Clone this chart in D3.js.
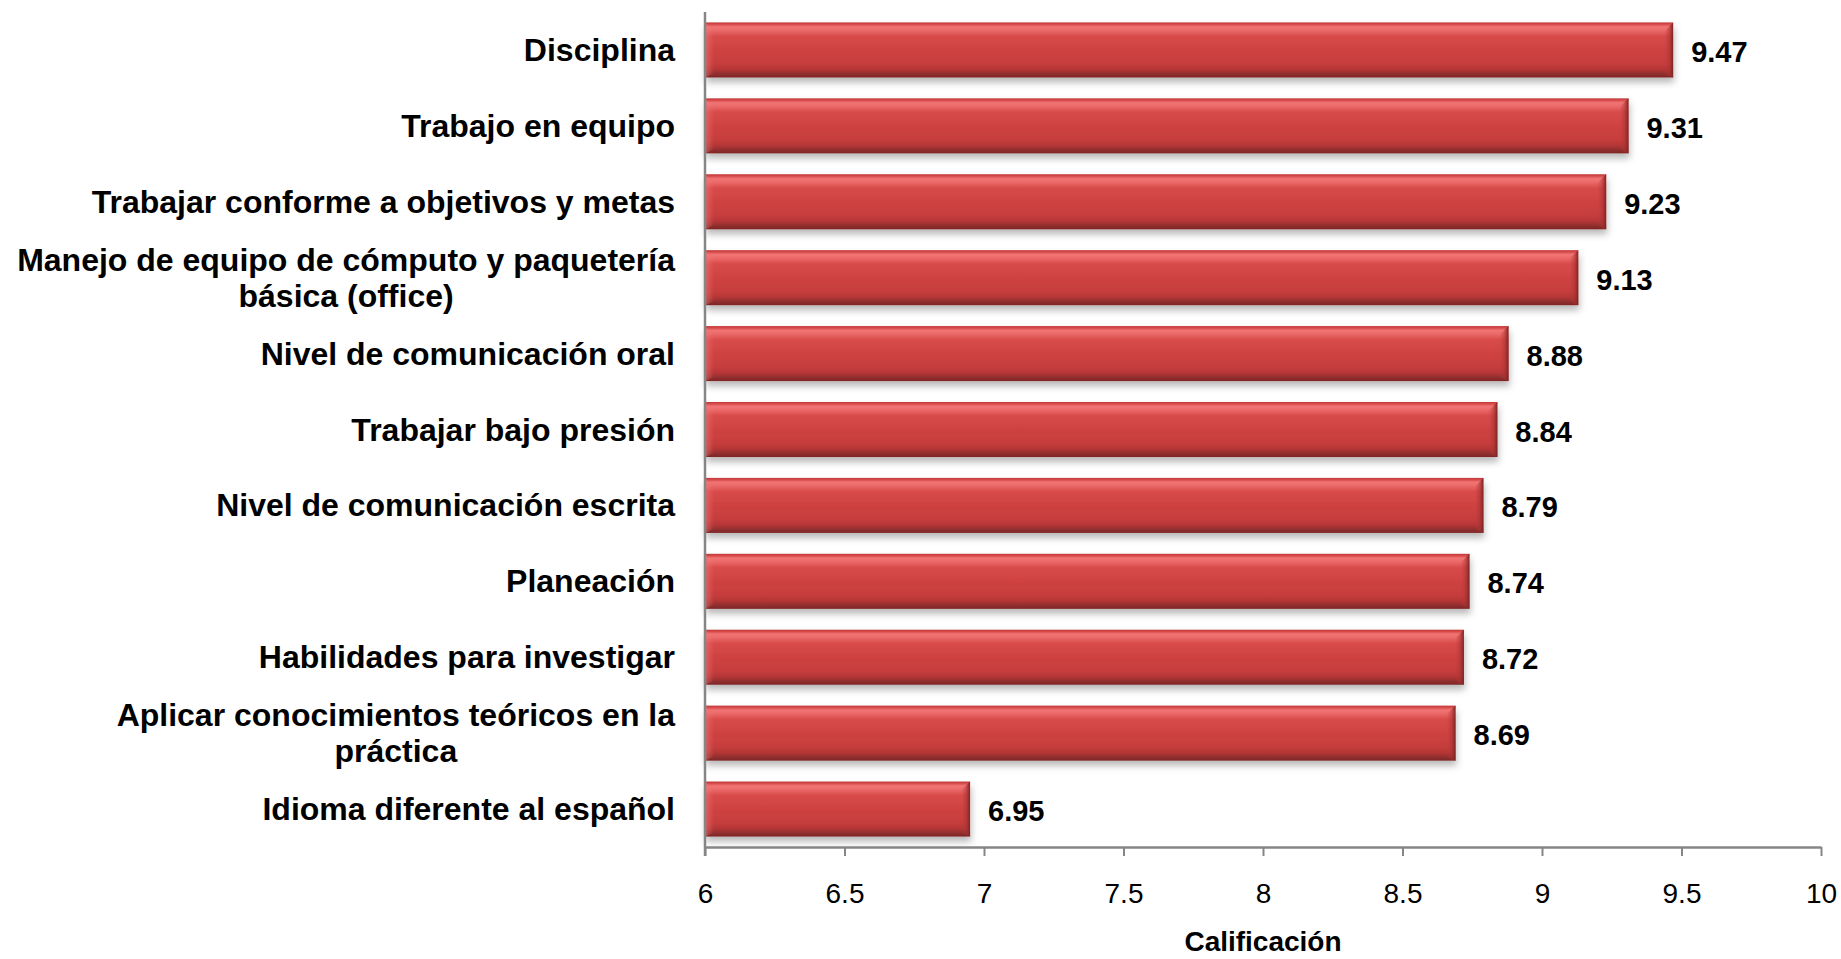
<!DOCTYPE html>
<html>
<head>
<meta charset="utf-8">
<script src="https://cdn.jsdelivr.net/npm/d3@7"></script>
<style>
  html, body { margin: 0; padding: 0; background: #fff; }
  svg { display: block; font-family: "Liberation Sans", Arial, Helvetica, sans-serif; }
</style>
</head>
<body>
<svg id="chart" width="1841" height="959"></svg>
<script>
// ---- data ----
const categories = [
  "Disciplina",
  "Trabajo en equipo",
  "Trabajar conforme a objetivos y metas",
  "Manejo de equipo de cómputo y paquetería básica (office)",
  "Nivel de comunicación oral",
  "Trabajar bajo presión",
  "Nivel de comunicación escrita",
  "Planeación",
  "Habilidades para investigar",
  "Aplicar conocimientos teóricos en la práctica",
  "Idioma diferente al español"
];
const values = [9.47, 9.31, 9.23, 9.13, 8.88, 8.84, 8.79, 8.74, 8.72, 8.69, 6.95];
const tickValues = [6, 6.5, 7, 7.5, 8, 8.5, 9, 9.5, 10];
const xDomain = [6, 10];
const xTitle = "Calificación";

(function () {
// ---- layout ----
const svg = d3.select("#chart");
const pLeft = 705, pRight = 1821, pTop = 12, pBottom = 847;

const x = d3.scaleLinear().domain(xDomain).range([pLeft, pRight]);
const y = d3.scaleBand().domain(categories).range([pTop, pBottom]).paddingInner(0.275).paddingOuter(0.1375);

const defs = svg.append("defs");
const g1 = defs.append("linearGradient").attr("id", "barGrad").attr("x1", 0).attr("y1", 0).attr("x2", 0).attr("y2", 1);
[
  [0, "#c23636"], [0.03, "#d44848"], [0.08, "#f27474"], [0.14, "#ec6a6a"],
  [0.25, "#d84b4b"], [0.5, "#cf4242"], [0.75, "#c63d3d"], [0.86, "#b43535"],
  [0.92, "#963030"], [1, "#7e2626"]
].forEach(([o, c]) => g1.append("stop").attr("offset", o).attr("stop-color", c));

const g2 = defs.append("linearGradient").attr("id", "edgeGrad").attr("x1", 0).attr("y1", 0).attr("x2", 1).attr("y2", 0);
[[0, "#c03c3c", 0], [0.6, "#a83232", 0.6], [1, "#7a2424", 1]]
  .forEach(([o, c, a]) => g2.append("stop").attr("offset", o).attr("stop-color", c).attr("stop-opacity", a));

const g3 = defs.append("linearGradient").attr("id", "leftGrad").attr("x1", 0).attr("y1", 0).attr("x2", 1).attr("y2", 0);
[[0, "#f07878", 0.55], [1, "#f07878", 0]]
  .forEach(([o, c, a]) => g3.append("stop").attr("offset", o).attr("stop-color", c).attr("stop-opacity", a));

const f = defs.append("filter").attr("id", "shadow").attr("x", "-5%").attr("y", "-20%").attr("width", "110%").attr("height", "170%");
f.append("feDropShadow").attr("dx", 1).attr("dy", 5).attr("stdDeviation", 3.5).attr("flood-color", "#000").attr("flood-opacity", 0.28);

// ---- bars ----
const bars = svg.append("g");
const bg = bars.selectAll("g.bar").data(categories).join("g").attr("class", "bar");

bg.append("rect")
  .attr("x", x(xDomain[0]))
  .attr("y", d => y(d))
  .attr("width", (d, i) => x(values[i]) - x(xDomain[0]))
  .attr("height", y.bandwidth())
  .attr("fill", "url(#barGrad)")
  .attr("filter", "url(#shadow)");

// right bevel
bg.append("path")
  .attr("d", (d, i) => {
    const xe = x(values[i]), yt = y(d), h = y.bandwidth(), b = 9;
    return `M${xe - b},${yt + b} L${xe},${yt} L${xe},${yt + h} L${xe - b},${yt + h - 4} Z`;
  })
  .attr("fill", "url(#edgeGrad)");
// left bevel highlight
bg.append("path")
  .attr("d", (d, i) => {
    const xs = x(xDomain[0]), yt = y(d), h = y.bandwidth(), b = 9;
    return `M${xs},${yt} L${xs + b},${yt + b} L${xs + b},${yt + h - 4} L${xs},${yt + h} Z`;
  })
  .attr("fill", "url(#leftGrad)");

// value labels
bars.selectAll("text.val").data(categories).join("text")
  .attr("class", "val")
  .attr("x", (d, i) => x(values[i]) + 18)
  .attr("y", d => y(d) + y.bandwidth() / 2 + 12)
  .attr("font-size", 29)
  .attr("font-weight", "bold")
  .attr("fill", "#000")
  .text((d, i) => values[i].toFixed(2));

// ---- x axis ----
const xAxis = svg.append("g").attr("transform", `translate(0,${pBottom})`)
  .call(d3.axisBottom(x).tickValues(tickValues).tickSize(9).tickSizeOuter(0).tickFormat(d3.format("")));
xAxis.select(".domain").attr("stroke", "#868686").attr("stroke-width", 2.5);
xAxis.selectAll(".tick line").attr("stroke", "#868686").attr("stroke-width", 2);
xAxis.selectAll(".tick text").attr("font-size", 28).attr("fill", "#000")
  .attr("font-family", "\"Liberation Sans\", Arial, sans-serif").attr("dy", 0).attr("y", 56);

// ---- y axis line ----
svg.append("g").attr("transform", `translate(${pLeft},0)`)
  .call(d3.axisLeft(y).tickSize(0).tickFormat(""))
  .call(g => g.select(".domain").attr("stroke", "#868686").attr("stroke-width", 2.5)
    .attr("d", `M0,${pTop}V${pBottom + 9}`));

// ---- category labels (wrapped, right-aligned box, centered lines) ----
const labelRight = 675, maxW = 675, lineH = 36;
const labG = svg.append("g").attr("font-size", 32).attr("font-weight", "bold").attr("fill", "#000");
categories.forEach(cat => {
  const t = labG.append("text").attr("text-anchor", "middle");
  const words = cat.split(" ");
  const lines = [];
  let cur = [];
  const probe = labG.append("text");
  words.forEach(w => {
    const test = cur.concat([w]).join(" ");
    probe.text(test);
    if (probe.node().getComputedTextLength() > maxW && cur.length) {
      lines.push(cur.join(" "));
      cur = [w];
    } else cur.push(w);
  });
  lines.push(cur.join(" "));
  let wMax = 0;
  lines.forEach(l => { probe.text(l); wMax = Math.max(wMax, probe.node().getComputedTextLength()); });
  probe.remove();
  const cx = labelRight - wMax / 2;
  const cy = y(cat) + y.bandwidth() / 2;
  const n = lines.length;
  lines.forEach((l, i) => {
    t.append("tspan").attr("x", cx)
      .attr("y", cy + (i - (n - 1) / 2) * lineH + 11)
      .text(l);
  });
});

// ---- axis title ----
svg.append("text")
  .attr("x", (pLeft + pRight) / 2)
  .attr("y", 951)
  .attr("text-anchor", "middle")
  .attr("font-size", 28)
  .attr("font-weight", "bold")
  .text(xTitle);
})();
</script>
</body>
</html>
